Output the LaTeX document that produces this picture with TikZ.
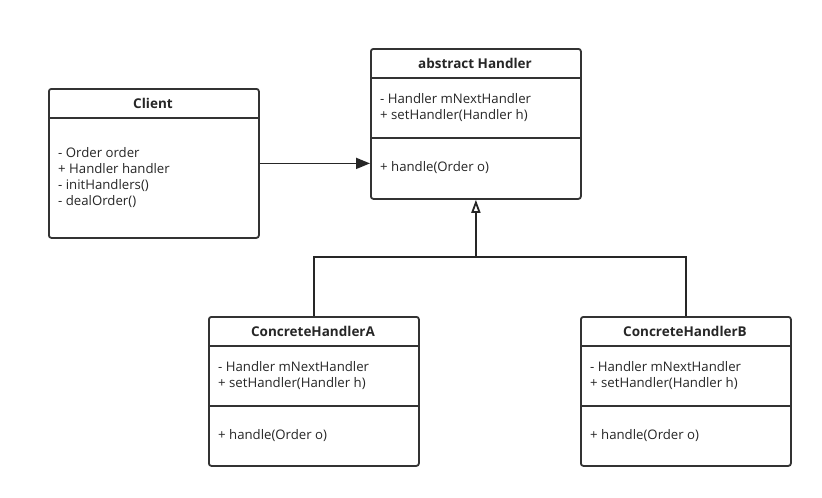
\documentclass[tikz,border=0pt]{standalone}
\usepackage{fontspec}
\setmainfont{Open Sans}
\usepackage{tikz}
\usetikzlibrary{arrows.meta}

\begin{document}
\begin{tikzpicture}[x=1pt, y=-1pt]
                \tikzstyle{cls} = [draw=black!80, line width=1.8pt, rounded corners=2.5pt, minimum width=210pt, inner sep=0pt, anchor=north west]
                \tikzstyle{ttl} = [inner sep=0pt, text=black!85, font=\bfseries\fontsize{13.5}{16}\selectfont]
                \tikzstyle{mbr} = [anchor=west, inner sep=0pt, align=left, text=black!85, font=\fontsize{13.2}{16}\selectfont]
                \tikzstyle{sep} = [draw=black!80, line width=1.8pt]
                \useasboundingbox (0,0) rectangle (822,498);
                % class boxes
                \node[cls, minimum height=149pt] (client) at (48,88) {};
                \node[cls, minimum height=150pt] (handler) at (370,48) {};
                \node[cls, minimum height=149pt] (ha) at (208,316) {};
                \node[cls, minimum height=149pt] (hb) at (580,316) {};
                % compartments
                \draw[sep] ([yshift=-30pt]client.north west) -- ([yshift=-30pt]client.north east);
                \foreach \c in {handler, ha, hb} {
                    \draw[sep] ([yshift=-30pt]\c.north west) -- ([yshift=-30pt]\c.north east);
                    \draw[sep] ([yshift=-90pt]\c.north west) -- ([yshift=-90pt]\c.north east);
                }
                % titles
                \node[ttl] (clientT) at (153,103) {Client};
                \node[ttl] (handlerT) at (475,63) {abstract Handler};
                \node[ttl] (haT) at (313,331) {ConcreteHandlerA};
                \node[ttl] (hbT) at (685,331) {ConcreteHandlerB};
                % members
                \node[mbr] (clientM) at (58,178) {- Order order\\+ Handler handler\\- initHandlers()\\- dealOrder()};
                \node[mbr] (handlerA) at (380,108) {- Handler mNextHandler\\+ setHandler(Handler h)};
                \node[mbr] (handlerO) at (380,168) {+ handle(Order o)};
                \node[mbr] (haA) at (218,376) {- Handler mNextHandler\\+ setHandler(Handler h)};
                \node[mbr] (haO) at (218,436) {+ handle(Order o)};
                \node[mbr] (hbA) at (590,376) {- Handler mNextHandler\\+ setHandler(Handler h)};
                \node[mbr] (hbO) at (590,436) {+ handle(Order o)};
                % connectors
                \draw[black!85, line width=1.8pt, -{Triangle[length=14pt, width=11pt]}] (client.east) -- (client.east -| handler.west);
                \coordinate (jn) at (handler.south |- 0,257);
                \draw[black!85, line width=1.8pt] (ha.north) |- (jn) -| (hb.north);
                \draw[black!85, line width=1.8pt, -{Triangle[open, length=13pt, width=9pt]}] (jn) -- (handler.south);
            \end{tikzpicture}
\end{document}
